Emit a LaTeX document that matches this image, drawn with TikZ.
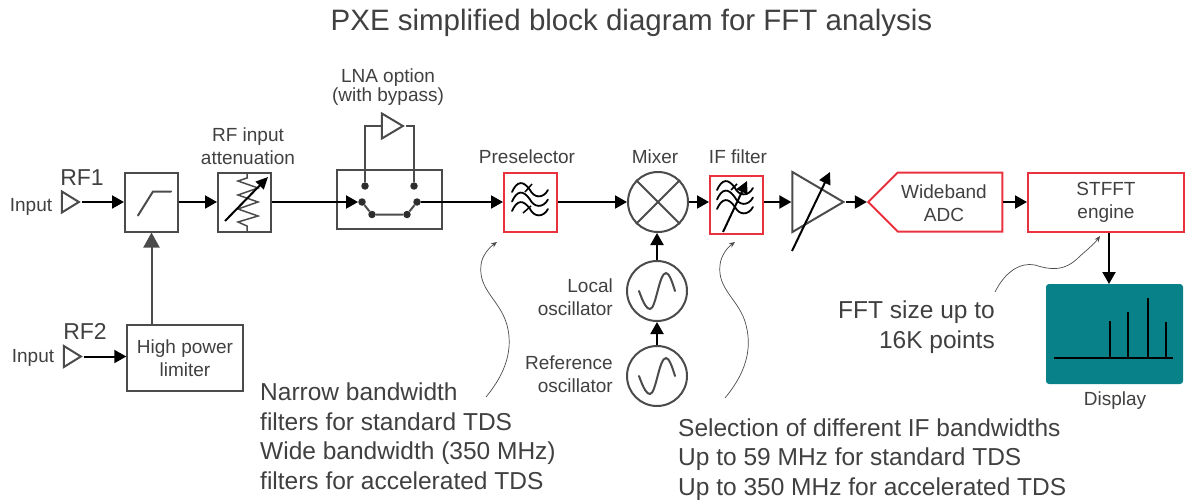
\documentclass[tikz,border=0pt]{standalone}
\usepackage{fontspec}
\setmainfont{Liberation Sans}
\usetikzlibrary{arrows.meta,shapes.geometric,shapes.symbols}
\definecolor{txtgray}{RGB}{64,64,64}
\definecolor{boxgray}{RGB}{75,75,75}
\definecolor{boxred}{RGB}{232,50,62}
\definecolor{screenteal}{RGB}{8,130,136}
\tikzset{
    flow/.style={black, line width=2pt, -{Triangle[length=12pt,width=13pt]}},
    blockbox/.style={draw=boxgray, line width=2pt, inner sep=0pt, align=center, text=txtgray, font=\fontsize{19}{23}\selectfont},
    redbox/.style={blockbox, draw=boxred},
    rfport/.style={draw=boxgray, line width=2pt, fill=white, isosceles triangle, isosceles triangle stretches, inner sep=0pt, minimum height=17pt, minimum width=21pt},
    roundblock/.style={draw=boxgray, line width=2pt, circle, inner sep=0pt, minimum size=60pt},
    contact/.style={fill=boxgray!60!black, circle, inner sep=0pt, minimum size=7.5pt},
    lbl/.style={text=txtgray, align=center, inner sep=0pt, font=\fontsize{19}{23}\selectfont},
    bigtxt/.style={text=txtgray, inner sep=0pt, font=\fontsize{24.5}{29.5}\selectfont},
    note/.style={draw=boxgray, line width=0.7pt, -{Stealth[length=6pt,width=5pt]}}
}
\newcommand{\filterwaves}[2]{
    \foreach \dy in {0,9.5,19} {
        \draw[black, line width=1.8pt, line cap=round, shift={(#1,#2+\dy)}] (0,9) .. controls (5,-2) and (11,-3) .. (18,7) .. controls (22,15) and (31,16) .. (36,7);
    }
}
\newcommand{\sinewave}[1]{
    \draw[boxgray, line width=2pt, line cap=round, shift={(#1)}] (-18,0) .. controls (-13,14) and (-10,18) .. (-7,18) .. controls (-1,18) and (2,-18) .. (9,-18) .. controls (12,-18) and (15,-10) .. (18,0);
}
\begin{document}
\begin{tikzpicture}[x=1pt,y=-1pt]
    \useasboundingbox (0,0) rectangle (1185,500);
    \node[text=txtgray, inner sep=0pt, font=\fontsize{29.5}{32}\selectfont] (titletxt) at (631.5,23) {PXE simplified block diagram for FFT analysis};

    % inputs
    \node[lbl, font=\fontsize{23}{27}\selectfont] (rfonelbl) at (82,178) {RF1};
    \node[lbl] (inonelbl) at (31,207) {Input};
    \node[rfport, anchor=apex] (rfoneport) at (81.5,202) {};
    \node[lbl, font=\fontsize{23}{27}\selectfont] (rftwolbl) at (85,331) {RF2};
    \node[lbl] (intwolbl) at (33,358) {Input};
    \node[rfport, anchor=apex] (rftwoport) at (83.5,356.5) {};

    % limiters
    \node[blockbox, minimum width=53pt, minimum height=59pt] (limiter) at (151.5,202) {};
    \draw[boxgray, line width=2pt, line cap=round] (138,215.5) -- (153,191.5) -- (171,191.5);
    \node[blockbox, line width=1.4pt, minimum width=116pt, minimum height=66pt] (hplimiter) at (185,358) {High power\\limiter};

    % attenuator
    \node[blockbox, minimum width=53pt, minimum height=59pt] (atten) at (244.5,202) {};
    \draw[boxgray, line width=1.5pt] (247,173) -- (247,178) -- (238,181) -- (258,188) -- (238,195) -- (258,202) -- (238,209) -- (258,216) -- (238,222) -- (247,226) -- (247,232);
    \draw[black, line width=2pt, -{Triangle[length=12pt,width=11pt]}] (225,221) -- (268,177);
    \node[lbl] (attenlbl) at (248,146) {RF input\\attenuation};

    % switch with bypass
    \node[blockbox, minimum width=105pt, minimum height=59pt] (swbox) at (389.5,199.5) {};
    \node[contact] (swa) at (362,202) {};
    \node[contact] (swb) at (372,214.5) {};
    \node[contact] (swc) at (407,214.5) {};
    \node[contact] (swd) at (417,202) {};
    \node[contact] (bypa) at (365,186) {};
    \node[contact] (bypb) at (414,186) {};
    \draw[boxgray, line width=2pt] (swa) -- (swb) -- (swc) -- (swd);
    \node[rfport, minimum height=21pt, minimum width=25pt, anchor=apex] (lna) at (405.5,126) {};
    \draw[boxgray, line width=2pt] (bypa) |- (lna.west);
    \draw[boxgray, line width=2pt] (bypb) |- (lna.apex);
    \node[lbl, font=\fontsize{19}{18.5}\selectfont] (lnalbl) at (388,87) {LNA option\\(with bypass)};

    % preselector and mixer
    \node[redbox, minimum width=53pt, minimum height=59pt] (presel) at (530.5,202) {};
    \filterwaves{512}{183}
    \draw[black, line width=1.5pt] (525,192) -- (532,184);
    \draw[black, line width=1.5pt] (523,213) -- (531,206);
    \node[lbl] (presellbl) at (527,157) {Preselector};
    \node[roundblock] (mixer) at (658,202) {};
    \draw[boxgray, line width=2pt] (mixer.45) -- (mixer.225);
    \draw[boxgray, line width=2pt] (mixer.135) -- (mixer.315);
    \node[lbl] (mixerlbl) at (655,157) {Mixer};

    % oscillators
    \node[roundblock] (losc) at (657,291) {};
    \sinewave{657,291}
    \node[roundblock] (rosc) at (657,376) {};
    \sinewave{657,376}
    \node[lbl, align=right, anchor=east] (losclbl) at (613,297) {Local\\oscillator};
    \node[lbl, align=right, anchor=east] (rosclbl) at (613,374.5) {Reference\\oscillator};

    % if filter and amplifier
    \node[redbox, minimum width=53pt, minimum height=58pt] (iffilter) at (736.5,205) {};
    \filterwaves{717}{181}
    \draw[black, line width=1.5pt] (731,190) -- (737,184);
    \draw[black, line width=2pt, -{Triangle[length=12pt,width=12pt]}] (723,232) -- (747,181);
    \node[lbl] (iflbl) at (738,157) {IF filter};
    \node[rfport, minimum height=51pt, minimum width=60pt, anchor=apex] (vamp) at (846,202) {};
    \draw[black, line width=2pt, -{Triangle[length=12pt,width=12pt]}] (792,251) -- (830,172);

    % adc and stfft
    \node[draw=boxred, line width=2pt, signal, signal to=west, signal pointer angle=90, inner sep=0pt, minimum width=134pt, minimum height=59pt] (adc) at (950,202) {};
    \node[lbl] (adclbl) at (944,203.5) {Wideband\\ADC};
    \node[redbox, minimum width=156pt, minimum height=59pt] (stfft) at (1106,202) {STFFT\\engine};

    % display
    \node[fill=screenteal, rounded corners=3pt, inner sep=0pt, minimum width=137pt, minimum height=100pt] (screen) at (1114.5,334) {};
    \coordinate (screenin) at (1109,284);
    \draw[black, line width=2pt] (1054,357.5) -- (1173,357.5);
    \foreach \bx/\by in {1109.5/321, 1128/312, 1148/298, 1165.5/321.5} {
        \draw[black, line width=2pt] (\bx,357.5) -- (\bx,\by);
    }
    \node[lbl] (screenlbl) at (1115,401) {Display};

    % signal path
    \draw[flow] (rfoneport.apex) -- (limiter.west);
    \draw[flow] (limiter.east) -- (atten.west);
    \draw[flow] (atten.east) -- (swa.west);
    \draw[flow] (swd.east) -- (presel.west);
    \draw[flow] (presel.east) -- (mixer.west);
    \draw[flow] (mixer.east) -- (iffilter.west |- mixer.east);
    \draw[flow] (iffilter.east |- mixer.east) -- (vamp.west |- mixer.east);
    \draw[flow] (vamp.apex) -- (adc.west);
    \draw[flow] (adc.east) -- (stfft.west);
    \draw[flow] (stfft.south -| screenin) -- (screenin);
    \draw[flow] (losc.north) -- (mixer.south -| losc.north);
    \draw[flow] (rosc.north) -- (losc.south);
    \draw[flow] (rftwoport.apex) -- (hplimiter.west |- rftwoport.apex);
    \draw[boxgray, line width=2pt, -{Triangle[length=15pt,width=16pt]}] (hplimiter.north -| limiter.south) -- (limiter.south);

    % notes
    \node[bigtxt, align=right, anchor=east] (fftnote) at (995,327) {FFT size up to\\16K points};
    \node[bigtxt, align=left, anchor=west] (prenote) at (260,436) {Narrow bandwidth\\filters for standard TDS\\Wide bandwidth (350 MHz)\\filters for accelerated TDS};
    \node[bigtxt, align=left, anchor=west] (ifnote) at (678,459.5) {Selection of different IF bandwidths\\Up to 59 MHz for standard TDS\\Up to 350 MHz for accelerated TDS};
    \coordinate (prestart) at (486,397);
    \coordinate (preend) at (497,242);
    \coordinate (ifstart) at (725,398);
    \coordinate (ifend) at (735,242);
    \coordinate (fftstart) at (995,292);
    \coordinate (fftend) at (1100,236);
    \draw[note] (prestart) .. controls (500,380) and (515,355) .. (507,325) .. controls (500,300) and (478,290) .. (481,265) .. controls (482,255) and (490,247) .. (preend);
    \draw[note] (ifstart) .. controls (740,380) and (754,355) .. (746,325) .. controls (740,300) and (717,290) .. (720,265) .. controls (721,255) and (728,247) .. (ifend);
    \draw[note] (fftstart) .. controls (1005,272) and (1020,262) .. (1035,265) .. controls (1050,270) and (1065,272) .. (1080,256) .. controls (1087,250) and (1095,243) .. (fftend);
\end{tikzpicture}
\end{document}
